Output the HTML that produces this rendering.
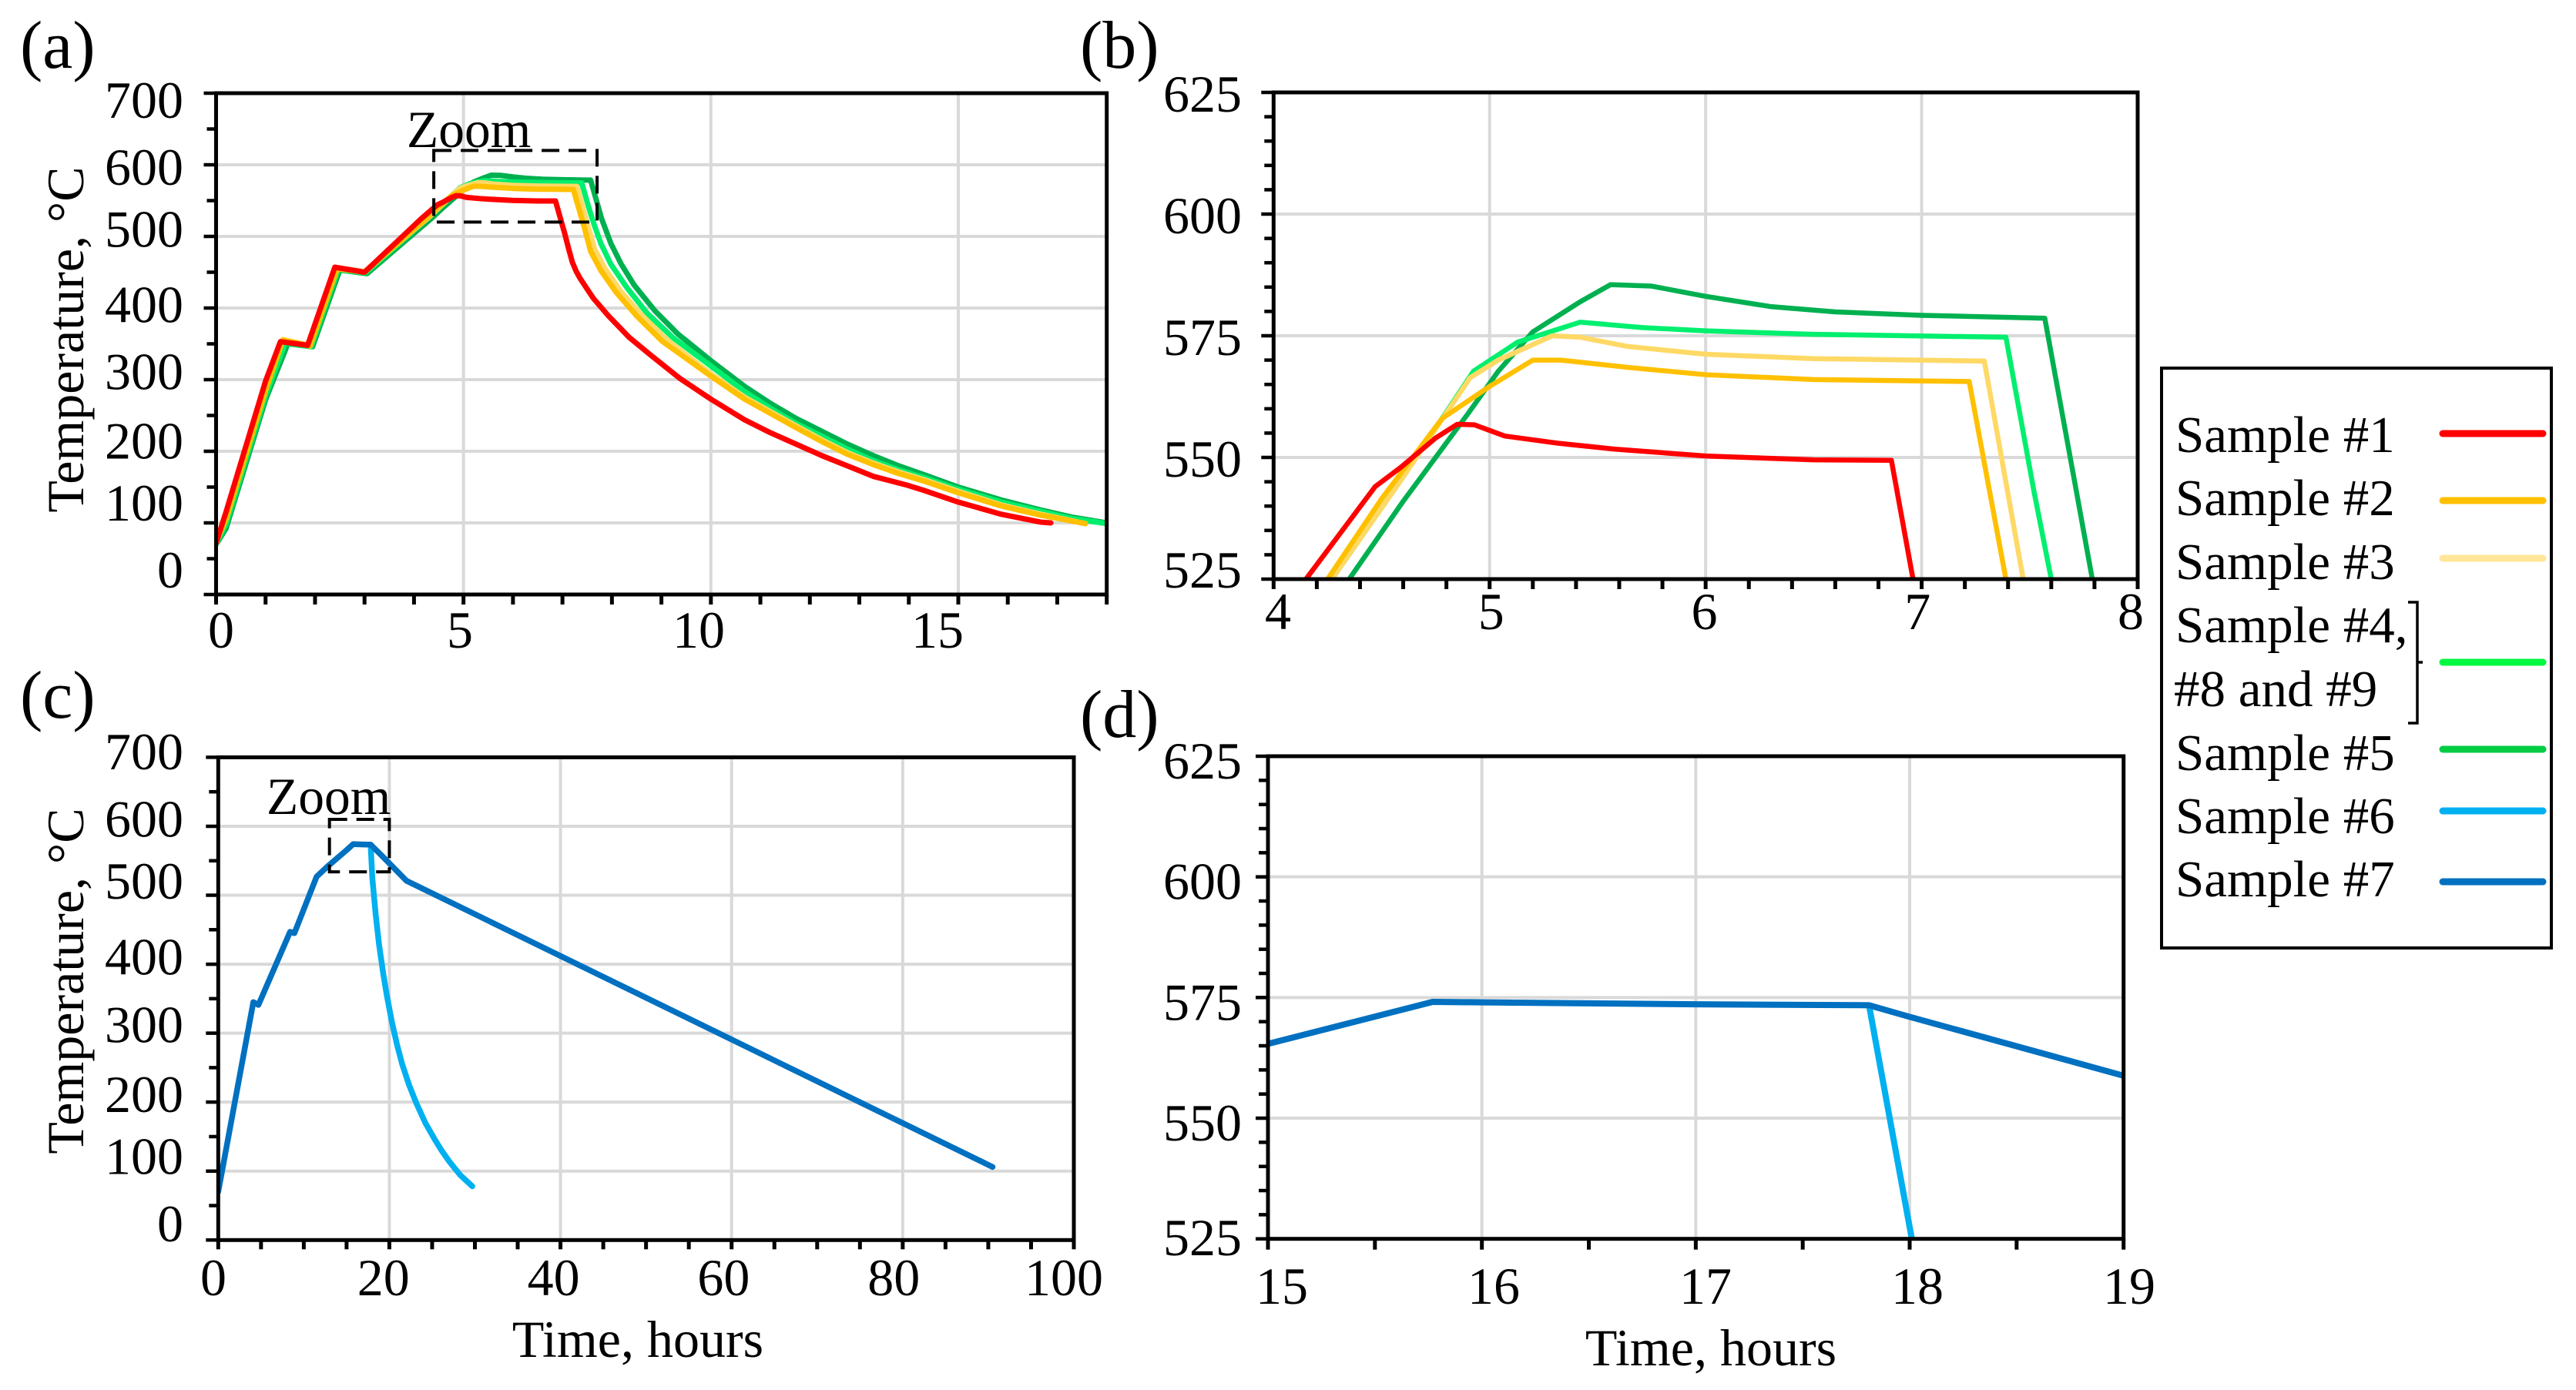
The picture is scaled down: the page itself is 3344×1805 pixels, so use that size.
<!DOCTYPE html>
<html lang="en">
<head>
<meta charset="utf-8">
<title>Temperature profiles of samples</title>
<style>
html,body{margin:0;padding:0;background:#fff;width:3344px;height:1805px;overflow:hidden;}
svg{display:block;position:absolute;left:0;top:0;overflow:hidden;}
text{font-family:"Liberation Serif","Times New Roman",serif;fill:#000;}
</style>
</head>
<body>
<svg id="figure" xmlns="http://www.w3.org/2000/svg" width="3344" height="1805" viewBox="0 0 3344 1805">

  <text x="26" y="88" font-size="88">(a)</text>
  <text x="1402" y="88" font-size="88">(b)</text>
  <text x="26" y="932" font-size="88">(c)</text>
  <text x="1402" y="957" font-size="88">(d)</text>

  <g id="panel-a"></g>
  <g id="panel-b"></g>
  <g id="panel-c"></g>
  <g id="panel-d"></g>

  <text transform="translate(108 441) rotate(-90)" text-anchor="middle" font-size="68">Temperature, °C</text>
  <text transform="translate(108 1274) rotate(-90)" text-anchor="middle" font-size="68">Temperature, °C</text>
  <text x="828" y="1762" text-anchor="middle" font-size="68">Time, hours</text>
  <text x="2221" y="1773" text-anchor="middle" font-size="68">Time, hours</text>
  <text x="528" y="191" font-size="67.5">Zoom</text>
  <text x="346" y="1057" font-size="67.5">Zoom</text>

  <g>
    <rect x="2806" y="478" width="506" height="753" fill="#ffffff" stroke="#000000" stroke-width="4"/>
    <text x="2824" y="587" font-size="67">Sample #1</text>
    <text x="2824" y="669" font-size="67">Sample #2</text>
    <text x="2824" y="752" font-size="67">Sample #3</text>
    <text x="2824" y="834" font-size="67">Sample #4,</text>
    <text x="2822" y="917" font-size="67">#8 and #9</text>
    <text x="2824" y="1000" font-size="67">Sample #5</text>
    <text x="2824" y="1082" font-size="67">Sample #6</text>
    <text x="2824" y="1164" font-size="67">Sample #7</text>
    <path d="M3126 782H3138V939H3126M3138 860H3145" fill="none" stroke="#000000" stroke-width="3.5"/>
    <g fill="none" stroke-width="9" stroke-linecap="round">
      <line x1="3171" y1="563" x2="3301" y2="563" stroke="#ff0000"/>
      <line x1="3171" y1="650" x2="3301" y2="650" stroke="#ffc000"/>
      <line x1="3171" y1="725" x2="3301" y2="725" stroke="#ffe699"/>
      <line x1="3171" y1="860" x2="3301" y2="860" stroke="#00f93f"/>
      <line x1="3171" y1="973" x2="3301" y2="973" stroke="#00cc44"/>
      <line x1="3171" y1="1053" x2="3301" y2="1053" stroke="#00b0f0"/>
      <line x1="3171" y1="1145" x2="3301" y2="1145" stroke="#0070c0"/>
    </g>
  </g>
</svg>

<script>
// ---- chart data: hours and degrees Celsius ----
const sample1Time = [0,0.2,1.0,1.3,1.85,2.4,3.0,4.15,4.47,4.59,4.75,4.85,4.93,5.07,5.32,5.58,6,6.5,6.86,6.96,7.05,7.12,7.2,7.28,7.36,7.62,7.93,8.35,8.76,9.38,10,10.68,11.2,11.72,12.24,12.76,13.28,13.95,14.3,15,15.87,16.67,16.87];
const sample1Temp = [72,115,298,353,348,457,450,525,544,548,554,556.8,556.7,554.4,552.9,551.7,550.3,549.5,549.4,525,503,484,464,451,441,414,389,359,335.5,301.4,272.8,244,226,210,194,179.6,165,153,145.5,129,112,101,100];

const sample2Time = [0,0.2,1.0,1.35,1.9,2.45,3.0,4.25,4.5,4.78,5,5.2,5.33,5.64,6,6.5,7.22,7.39,7.44,7.57,7.78,8.09,8.5,9.02,10,10.68,11.2,11.72,12.24,12.76,13.28,13.8,14.32,15,15.87,16.67,17.57];
const sample2Temp = [73,105,285,355,347,455,450,525,541.5,558,564.6,570,570,568.5,567,566,565.6,525,513,479,452,421.5,389,353.4,305,272.8,253,233,213.6,195.7,181.4,168.8,158,142,123.5,110.7,99];

const sample3Time = [0,0.2,1.0,1.35,1.9,2.45,3.0,4.27,4.6,4.91,5.04,5.29,5.42,5.64,6,6.5,7.29,7.47,7.52,7.65,7.86,8.17,8.58,9.1,10,10.68,11.2,11.72,12.24,12.76,13.28,13.8,14.32,15,15.87,16.67,17.57];
const sample3Temp = [73,105,285,356,348,456,451,525,546,566.4,570,575,574.7,572.8,571.2,570.3,569.8,525,513,482,455,424,391.5,356,308,275.5,255.5,235.5,216,198,183.5,171,160,144,125,112,99];

const sample4Time = [0,0.2,1.0,1.4,1.92,2.47,3.02,4.27,4.6,4.925,5.13,5.42,5.7,6,6.5,7.39,7.52,7.6,7.65,7.78,7.98,8.3,8.71,9.23,10,10.68,11.2,11.72,12.24,12.76,13.28,13.8,14.32,15,15.87,16.67,17.3,18];
const sample4Temp = [71,98,278,351,346,454,449,525,546,567.7,573.7,577.8,576.7,576,575.3,574.7,543,525,514.7,489.6,461,428.7,392.8,358.8,319,283.5,260,239,221,203,187,174,163,147,129,116,106,99];

const sample5Time = [0,0.2,1.0,1.45,1.95,2.5,3.05,4.35,4.6,4.9,5.04,5.2,5.42,5.56,5.75,6,6.3,6.6,7,7.57,7.7,7.79,7.98,8.19,8.45,8.87,9.33,10,10.68,11.2,11.72,12.24,12.76,13.28,13.8,14.32,15,15.87,16.67,17.3,18];
const sample5Temp = [70,92,272,350,346,453,448,525,541,559,567.7,575.8,582,585.5,585.2,583.1,581,579.9,579.2,578.6,547,525,490,461,432,396,364,326.5,290.7,267,246,228,210,194,179.6,167,150,132,118,108,100];

const sample6Time = [17.81,18.01,18.4,18.8,19.3,19.7,20.3,20.9,21.5,22.3,23.1,24.2,25.3,26.1,27,28.3,29.7];
const sample6Temp = [573.4,525,472,428,385,355,316,283,255,225,200,170,146,130,114,94,78];

const sample7Time = [0,4.1,4.7,8.4,8.9,11.5,12.8,15,15.77,16,17,17.81,18,19,22,90.5];
const sample7Temp = [70,345,341,447,445,527,542,565.4,574.1,574,573.6,573.4,571,558.8,521,106];

// tick labels
const panelAXLabels = [0,5,10,15];
const panelAYLabels = [700,600,500,400,300,200,100,0];
const panelBXLabels = [4,5,6,7,8];
const panelBYLabels = [625,600,575,550,525];
const panelCXLabels = [0,20,40,60,80,100];
const panelCYLabels = [700,600,500,400,300,200,100,0];
const panelDXLabels = [15,16,17,18,19];
const panelDYLabels = [625,600,575,550,525];

// zoom rectangles in data units: tMin, tMax, tempMin, tempMax
const zoomRangeA = [4.4,7.7,520,620];
const zoomRangeC = [13,20,534,610];

// ---- drawing ----
const SVGNS = 'http://www.w3.org/2000/svg';
function mk(parent, tag, attrs) {
  const node = document.createElementNS(SVGNS, tag);
  for (const k in attrs) node.setAttribute(k, attrs[k]);
  parent.appendChild(node);
  return node;
}
function pathFrom(times, temps, sx, sy) {
  return times.map(function (t, i) {
    return (i ? 'L' : 'M') + sx(t).toFixed(2) + ' ' + sy(temps[i]).toFixed(2);
  }).join('');
}
function drawPanel(cfg) {
  const root = document.getElementById(cfg.id);
  const sx = function (t) { return cfg.left + (t - cfg.xMin) / (cfg.xMax - cfg.xMin) * (cfg.right - cfg.left); };
  const sy = function (v) { return cfg.bottom - (v - cfg.yMin) / (cfg.yMax - cfg.yMin) * (cfg.bottom - cfg.top); };

  // gridlines
  cfg.xLabels.forEach(function (t) {
    if (t === cfg.xMin || t === cfg.xMax) return;
    const g = mk(root, 'line', {x1: sx(t), x2: sx(t), y1: cfg.top, y2: cfg.bottom, stroke: '#d9d9d9', 'stroke-width': 4});
    
    
  });
  cfg.yLabels.forEach(function (v) {
    if (v === cfg.yMin || v === cfg.yMax) return;
    const g = mk(root, 'line', {x1: cfg.left, x2: cfg.right, y1: sy(v), y2: sy(v), stroke: '#d9d9d9', 'stroke-width': 4});
    
    
  });

  // series, clipped to the plot area
  const clipId = cfg.id + '-clip';
  const clip = mk(root, 'clipPath', {id: clipId});
  mk(clip, 'rect', {x: cfg.left, y: cfg.top, width: cfg.right - cfg.left, height: cfg.bottom - cfg.top});
  const seriesGroup = mk(root, 'g', {'clip-path': 'url(#' + clipId + ')', fill: 'none', 'stroke-linejoin': 'round', 'stroke-linecap': 'round'});
  
  
  cfg.series.forEach(function (s) {
    const line = mk(seriesGroup, 'path', {d: pathFrom(s.time, s.temp, sx, sy), stroke: s.color, 'stroke-width': cfg.lineWidth});
    
    
  });

  // zoom rectangle
  if (cfg.zoomRange) {
    const z = cfg.zoomRange;
    const box = mk(root, 'rect', {x: sx(z[0]), y: sy(z[3]), width: sx(z[1]) - sx(z[0]), height: sy(z[2]) - sy(z[3]), fill: 'none', stroke: '#000', 'stroke-width': 4, 'stroke-dasharray': '23 12'});
    
    
  }

  // frame
  const frame = mk(root, 'rect', {x: cfg.left, y: cfg.top, width: cfg.right - cfg.left, height: cfg.bottom - cfg.top, fill: 'none', stroke: '#000', 'stroke-width': 5});
  
  

  // x ticks
  const xCount = Math.round((cfg.xMax - cfg.xMin) / cfg.xStep);
  for (let i = 0; i <= xCount; i++) {
    const t = cfg.xMin + i * cfg.xStep;
    const tick = mk(root, 'line', {x1: sx(t), x2: sx(t), y1: cfg.bottom, y2: cfg.bottom + cfg.tickX, stroke: '#000', 'stroke-width': 5});
    
    
  }
  // y ticks
  const yCount = Math.round((cfg.yMax - cfg.yMin) / cfg.yStep);
  for (let i = 0; i <= yCount; i++) {
    const v = cfg.yMin + i * cfg.yStep;
    const major = cfg.yLabels.indexOf(v) >= 0;
    const tick = mk(root, 'line', {x1: cfg.left - (major ? 16 : 12), x2: cfg.left, y1: sy(v), y2: sy(v), stroke: '#000', 'stroke-width': 4.5});
    
    
  }

  // tick labels
  const xFirst = cfg.xLabels[0], xLast = cfg.xLabels[cfg.xLabels.length - 1];
  cfg.xLabels.forEach(function (t) {
    const x = cfg.xLabelStart + (t - xFirst) / (xLast - xFirst) * (cfg.xLabelEnd - cfg.xLabelStart);
    const lab = mk(root, 'text', {x: x, y: cfg.xLabelBaseline, 'text-anchor': 'middle', 'font-size': 68});
    
    
    lab.textContent = t;
  });
  cfg.yLabels.forEach(function (v) {
    const lab = mk(root, 'text', {x: cfg.yLabelRight, y: cfg.yLabelPos(v, sy), 'text-anchor': 'end', 'font-size': 68});
    
    
    lab.textContent = v;
  });
}

const colorS1 = '#ff0000', colorS2 = '#ffc000', colorS3 = '#ffd966', colorS4 = '#00ef6e', colorS5 = '#00b050', colorS6 = '#00b0f0', colorS7 = '#0070c0';
const groupOne = [
  {name: 'sample-5', time: sample5Time, temp: sample5Temp, color: colorS5},
  {name: 'sample-4', time: sample4Time, temp: sample4Temp, color: colorS4},
  {name: 'sample-3', time: sample3Time, temp: sample3Temp, color: colorS3},
  {name: 'sample-2', time: sample2Time, temp: sample2Temp, color: colorS2},
  {name: 'sample-1', time: sample1Time, temp: sample1Temp, color: colorS1}
];
const groupTwo = [
  {name: 'sample-6', time: sample6Time, temp: sample6Temp, color: colorS6},
  {name: 'sample-7', time: sample7Time, temp: sample7Temp, color: colorS7}
];

// hand-placed label text box in the left panels: small offset by label value
function leftLabelOffset(v) {
  if (v === 500) return -7;
  if (v === 400 || v === 300) return 4;
  if (v === 200) return 7;
  return 0;
}

drawPanel({
  id: 'panel-a', left: 280.5, right: 1436.7, top: 121, bottom: 772,
  xMin: 0, xMax: 18, yMin: 0, yMax: 700, xStep: 1, yStep: 50, tickX: 13,
  xLabels: panelAXLabels, yLabels: panelAYLabels, series: groupOne, lineWidth: 7, zoomRange: zoomRangeA,
  xLabelStart: 287, xLabelEnd: 1217, xLabelBaseline: 841, yLabelRight: 238,
  yLabelPos: function (v) { return 763 - v / 700 * 610 + leftLabelOffset(v); }
});
drawPanel({
  id: 'panel-b', left: 1653.3, right: 2775, top: 120, bottom: 752,
  xMin: 4, xMax: 8, yMin: 525, yMax: 625, xStep: 0.2, yStep: 5, tickX: 13,
  xLabels: panelBXLabels, yLabels: panelBYLabels, series: groupOne, lineWidth: 6.5,
  xLabelStart: 1659, xLabelEnd: 2766, xLabelBaseline: 817, yLabelRight: 1612,
  yLabelPos: function (v, sy) { return Math.min(sy(v) + 25, 763); }
});
drawPanel({
  id: 'panel-c', left: 283.3, right: 1394, top: 983.4, bottom: 1610.3,
  xMin: 0, xMax: 100, yMin: 0, yMax: 700, xStep: 5, yStep: 50, tickX: 12,
  xLabels: panelCXLabels, yLabels: panelCYLabels, series: groupTwo, lineWidth: 7.5, zoomRange: zoomRangeC,
  xLabelStart: 277, xLabelEnd: 1381, xLabelBaseline: 1682, yLabelRight: 238,
  yLabelPos: function (v) { return 1612 - v / 700 * 613 + leftLabelOffset(v); }
});
drawPanel({
  id: 'panel-d', left: 1646, right: 2756.7, top: 982, bottom: 1608.7,
  xMin: 15, xMax: 19, yMin: 525, yMax: 625, xStep: 0.5, yStep: 5, tickX: 14,
  xLabels: panelDXLabels, yLabels: panelDYLabels, series: groupTwo, lineWidth: 8,
  xLabelStart: 1664, xLabelEnd: 2764, xLabelBaseline: 1693, yLabelRight: 1612,
  yLabelPos: function (v, sy) { return Math.min(sy(v) + 29, 1630); }
});
</script>
</body>
</html>
